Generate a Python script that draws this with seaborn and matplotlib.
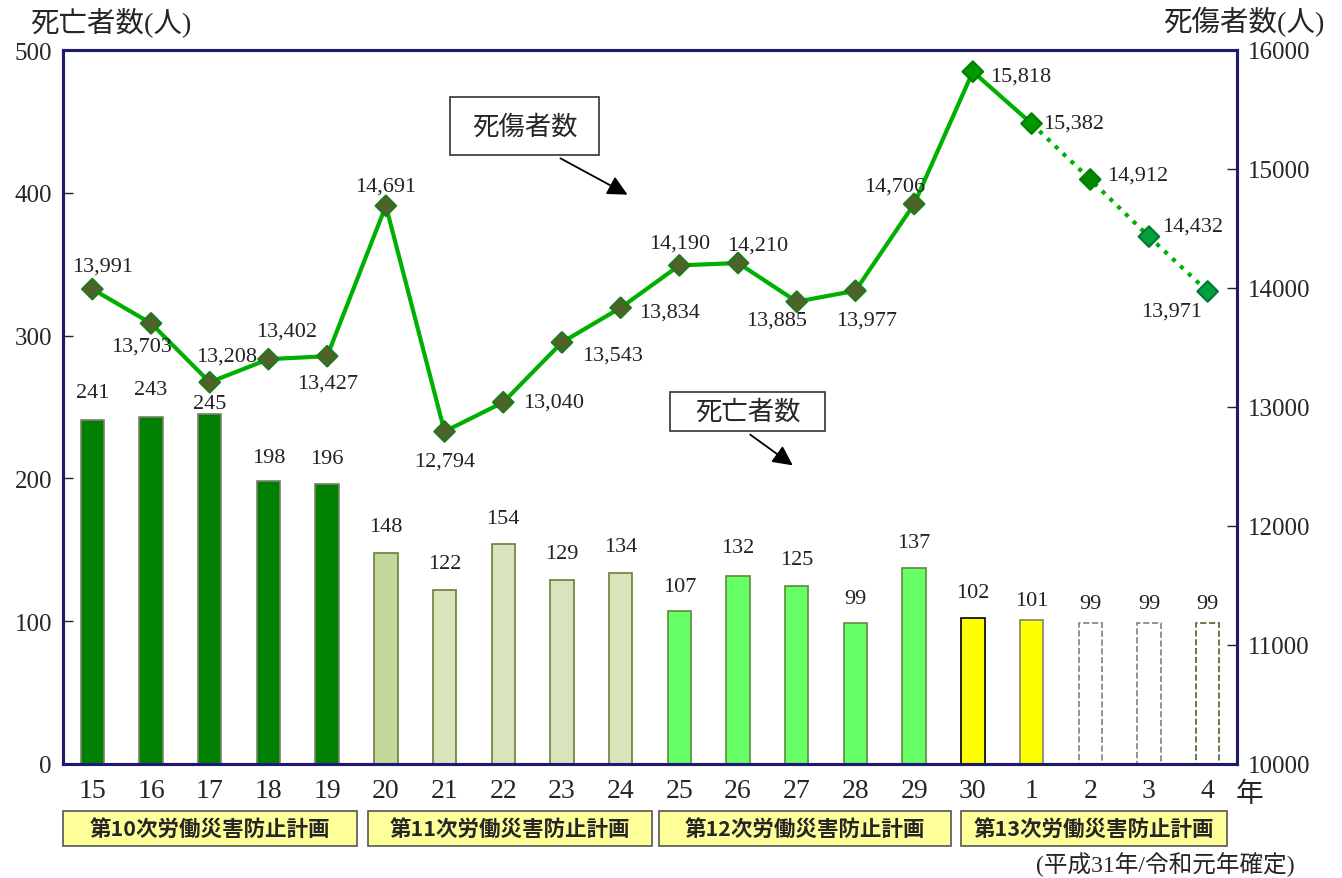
import numpy as np
import matplotlib
matplotlib.use("Agg")
import matplotlib.pyplot as plt
import matplotlib.transforms as mtransforms
from matplotlib.patches import Rectangle
import seaborn as sns

# data
years = ["15", "16", "17", "18", "19", "20", "21", "22", "23", "24",
         "25", "26", "27", "28", "29", "30", "1", "2", "3", "4"]
deaths = [241, 243, 245, 198, 196, 148, 122, 154, 129, 134,
          107, 132, 125, 99, 137, 102, 101, 99, 99, 99]
casualties = [13991, 13703, 13208, 13402, 13427, 14691, 12794, 13040, 13543, 13834,
              14190, 14210, 13885, 13977, 14706, 15818, 15382, 14912, 14432, 13971]
plans = ["第10次労働災害防止計画", "第11次労働災害防止計画",
         "第12次労働災害防止計画", "第13次労働災害防止計画"]
left_ticks = [0, 100, 200, 300, 400, 500]
right_ticks = [10000, 11000, 12000, 13000, 14000, 15000, 16000]

# styles
bar_fill = ["#008000"] * 5 + ["#c4d79b"] + ["#d8e4bc"] * 4 + ["#66ff66"] * 5 \
    + ["#ffff00"] * 2 + ["#ffffff"] * 3
bar_edge = ["#7f7f6a"] * 5 + ["#6b7f3a"] * 5 + ["#5f8a3a"] * 5 \
    + ["#000000", "#808080", "#808080", "#808080", "#4f6228"]
bar_ls = ["-"] * 17 + ["--"] * 3
marker_face = ["#4f6228"] * 15 + ["#009900", "#009900", "#008800", "#00a040", "#00a040"]
marker_edge = ["#1f7a1f"] * 15 + ["#008000"] * 3 + ["#007a30"] * 2
# label offsets (pixels)
bar_lab_dy = [27, 27, 11, 24, 26, 26, 26, 26, 26, 26,
              25, 28, 26, 24, 26, 26, 19, 19, 19, 19]
lab_off = [(10, 23), (-10, -23), (17, 26), (18, 28), (0, -27), (0, 20), (0, -30),
           (50, 0), (51, -13), (49, -4), (0, 22), (20, 18), (-20, -18), (11, -29),
           (-19, 18), (48, -4), (42, 0), (47, 4), (44, 11), (-36, -20)]
plan_span = [(-0.5, 4.5), (4.7, 9.53), (9.66, 14.62), (14.8, 19.33)]

sns.set_theme(style="white")
plt.rcParams["font.family"] = ["Liberation Serif", "Noto Sans CJK JP"]

W, H = 1342, 879
fig = plt.figure(figsize=(W / 100, H / 100), dpi=100)
ax = fig.add_axes([63 / W, 1 - 765 / H, (1237 - 63) / W, (765 - 51) / H])

xpos = np.arange(len(years))
sns.barplot(x=years, y=deaths, hue=years, palette=bar_fill, legend=False,
            width=0.4, saturation=1, ax=ax, zorder=2)
for p, ec, ls in zip(ax.patches, bar_edge, bar_ls):
    p.set_edgecolor(ec)
    p.set_linestyle(ls)
    p.set_linewidth(1.2)

for i, v in enumerate(deaths):
    ax.annotate(str(v), (i, v), xytext=(0, bar_lab_dy[i]), textcoords="offset pixels",
                ha="center", va="center", fontsize=16, color="#222222")

ax.set_xlim(-0.5, len(years) - 0.5)
ax.set_ylim(0, 500)
ax.set_yticks(left_ticks)
ax.set_xlabel("")
ax.set_ylabel("")
ax.set_xticks(xpos)
ax.set_xticklabels(years)
ax.set_xticks(xpos[:-1] + 0.5, minor=True)
ax.tick_params(axis="x", which="major", length=0, labelsize=20, pad=10)
ax.tick_params(axis="x", which="minor", length=6, direction="in", width=1, color="#222222")
ax.tick_params(axis="y", length=7, direction="in", width=1, labelsize=18, pad=8,
               color="#222222", left=True)

ax2 = ax.twinx()
sns.lineplot(x=xpos[:17], y=casualties[:17], color="#00b000", linewidth=3, ax=ax2)
sns.lineplot(x=xpos[16:], y=casualties[16:], color="#00b000", linewidth=3,
             linestyle=(0, (1, 1.6)), ax=ax2)
ax2.scatter(xpos, casualties, marker="D", s=110, c=marker_face, edgecolors=marker_edge,
            linewidths=1.5, zorder=5)
for i, v in enumerate(casualties):
    dx, dy = lab_off[i]
    ax2.annotate(f"{v:,}", (i, v), xytext=(dx, dy), textcoords="offset pixels",
                 ha="center", va="center", fontsize=16, color="#222222")
ax2.set_ylim(10000, 16000)
ax2.set_yticks(right_ticks)
ax2.set_yticklabels([str(t) for t in right_ticks])
ax2.set_ylabel("")
ax2.tick_params(axis="y", length=7, direction="in", width=1, labelsize=18, pad=8,
                color="#222222", right=True)
ax2.grid(False)
ax.grid(False)

for a in (ax, ax2):
    for s in a.spines.values():
        s.set_color("#1c1c6b")
        s.set_linewidth(2.2)
        s.set_visible(True)

# axis titles
fig.text(30 / W, 1 - 22 / H, "死亡者数(人)", fontsize=20.5, va="center", ha="left")
fig.text(1325 / W, 1 - 22 / H, "死傷者数(人)", fontsize=20.5, va="center", ha="right")
fig.text(1250 / W, 1 - 795 / H, "年", fontsize=20, va="center", ha="center")
fig.text(1295 / W, 1 - 865 / H, "(平成31年/令和元年確定)", fontsize=17, va="center", ha="right")


def px_box(x0, y0, x1, y1, label, size):
    fig.add_artist(Rectangle((x0 / W, 1 - y1 / H), (x1 - x0) / W, (y1 - y0) / H,
                             transform=fig.transFigure, facecolor="white",
                             edgecolor="#333333", linewidth=1.2))
    fig.text((x0 + x1) / 2 / W, 1 - (y0 + y1) / 2 / H, label, fontsize=size,
             ha="center", va="center")


px_box(450, 98, 599, 156, "死傷者数", 19)
px_box(670, 393, 825, 432, "死亡者数", 19)
for (x0, y0, x1, y1) in [(558, 158, 630, 197), (748, 434, 795, 468)]:
    ax.annotate("", xy=(x1, H - y1), xytext=(x0, H - y0), xycoords="figure pixels",
                textcoords="figure pixels",
                arrowprops=dict(arrowstyle="-|>", color="black", lw=1.3,
                                mutation_scale=30))

# plan boxes under the axis
trans = mtransforms.blended_transform_factory(ax.transData, fig.transFigure)
for (x0, x1), name in zip(plan_span, plans):
    r = Rectangle((x0, 1 - 847 / H), x1 - x0, 35 / H, transform=trans,
                  facecolor="#ffff99", edgecolor="#555555", linewidth=1.2, clip_on=False)
    fig.add_artist(r)
    fig.text((x0 + x1) / 2, 1 - 829.5 / H, name, transform=trans, fontsize=15.5,
             fontweight="bold", ha="center", va="center", family=["Noto Sans CJK JP"])

fig.savefig("out.png", dpi=100)
